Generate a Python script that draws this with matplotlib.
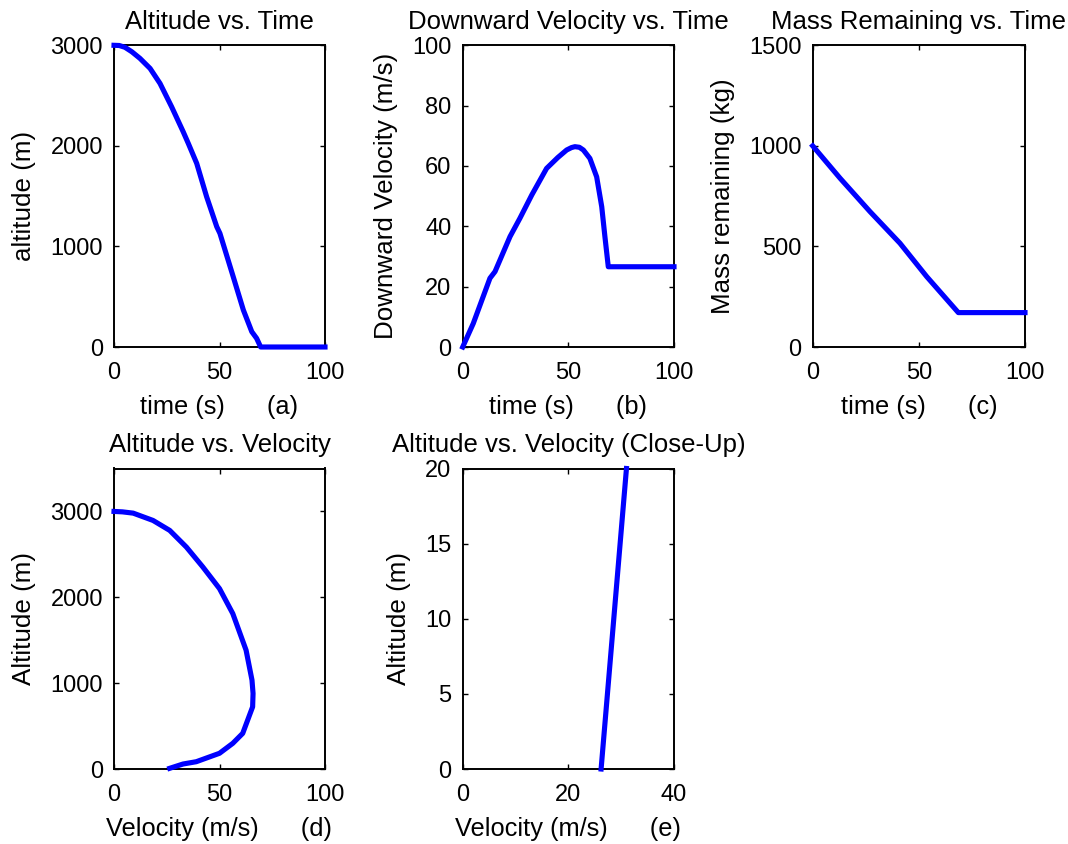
import matplotlib
matplotlib.use("Agg")
import matplotlib.pyplot as plt

plt.rcParams["font.family"] = ["Liberation Sans", "DejaVu Sans"]
plt.rcParams["font.size"] = 17

# (a) altitude vs time
alt_t = [0, 2.5, 5.2, 8.5, 12.3, 17.1, 21.8, 27.3, 32.8, 35.2, 39.2, 43.9, 48.7,
         50.2, 56.5, 61.3, 65.3, 67.6, 69.5, 100]
alt_m = [3000, 2998, 2980, 2935, 2870, 2770, 2621, 2389, 2140, 2025, 1826, 1494,
         1196, 1130, 699, 368, 152, 86, 0, 0]

# (b) downward velocity vs time
vel_t = [0, 5, 12.9, 15.3, 22.4, 27.1, 32.7, 39.7, 45, 49.2, 51.5, 53.1, 55.2,
         57.1, 60.2, 63.4, 65.8, 67.3, 68.9, 100]
vel_ms = [0, 7.8, 22.8, 25, 36.6, 42.7, 50.4, 59.2, 62.8, 65.3, 66.1, 66.4, 66.2,
          65.3, 62.5, 56.4, 46.5, 36.6, 26.6, 26.6]

# (c) mass remaining vs time
mass_t = [0, 12.9, 27, 41.1, 53.7, 68.6, 100]
mass_kg = [1000, 839, 673, 516, 350, 171, 171]

# (d) altitude vs velocity
av_vel = [0, 4, 9.1, 18.5, 26.4, 34.3, 42.1, 50, 56.3, 62.6, 65.4, 65.9, 65.7,
          61, 56.3, 50, 39, 32.7, 26.4]
av_alt = [3000, 2995, 2980, 2895, 2779, 2585, 2353, 2101, 1810, 1384, 1035, 880,
          724, 415, 299, 183, 85, 58, 8]

# (e) close-up near the ground
cu_vel = [26.2, 31.0]
cu_alt = [0, 20]

W, H = 1068, 844
fig = plt.figure(figsize=(W / 100, H / 100), dpi=100)


def make_ax(x0, x1, y0, y1):
    ax = fig.add_axes([x0 / W, 1 - y1 / H, (x1 - x0) / W, (y1 - y0) / H])
    ax.tick_params(direction="in", top=True, right=True, length=3.6, width=1,
                   labelsize=17)
    ax.tick_params(axis="x", pad=11)
    ax.tick_params(axis="y", pad=8)
    for s in ax.spines.values():
        s.set_linewidth(1.4)
    return ax


def draw(ax, x, y):
    ax.plot(x, y, color="#0000ff", lw=3.7, clip_on=False, zorder=3,
            solid_joinstyle="round")


def labels(ax, title, xlab, ylab):
    ax.set_title(title, pad=12, fontsize=18.5)
    ax.set_xlabel(xlab, labelpad=8, fontsize=18.3)
    ax.set_ylabel(ylab, labelpad=10, fontsize=18.7)


row1 = (45.3, 347)
row2 = (468.5, 769)
cols = [(114, 325), (462.7, 674), (812.7, 1025)]

ax = make_ax(*cols[0], *row1)
draw(ax, alt_t, alt_m)
ax.set_xlim(0, 100); ax.set_ylim(0, 3000)
ax.set_xticks([0, 50, 100]); ax.set_yticks([0, 1000, 2000, 3000])
labels(ax, "Altitude vs. Time", "time (s)      (a)", "altitude (m)")

ax = make_ax(*cols[1], *row1)
draw(ax, vel_t, vel_ms)
ax.set_xlim(0, 100); ax.set_ylim(0, 100)
ax.set_xticks([0, 50, 100]); ax.set_yticks([0, 20, 40, 60, 80, 100])
labels(ax, "Downward Velocity vs. Time", "time (s)      (b)",
       "Downward Velocity (m/s)")

ax = make_ax(*cols[2], *row1)
draw(ax, mass_t, mass_kg)
ax.set_xlim(0, 100); ax.set_ylim(0, 1500)
ax.set_xticks([0, 50, 100]); ax.set_yticks([0, 500, 1000, 1500])
labels(ax, "Mass Remaining vs. Time", "time (s)      (c)", "Mass remaining (kg)")

ax = make_ax(*cols[0], *row2)
draw(ax, av_vel, av_alt)
ax.set_xlim(0, 100); ax.set_ylim(0, 3500)
ax.set_xticks([0, 50, 100]); ax.set_yticks([0, 1000, 2000, 3000])
labels(ax, "Altitude vs. Velocity", "Velocity (m/s)      (d)", "Altitude (m)")

ax = make_ax(*cols[1], *row2)
draw(ax, cu_vel, cu_alt)
ax.set_xlim(0, 40); ax.set_ylim(0, 20)
ax.set_xticks([0, 20, 40]); ax.set_yticks([0, 5, 10, 15, 20])
labels(ax, "Altitude vs. Velocity (Close-Up)", "Velocity (m/s)      (e)",
       "Altitude (m)")

fig.savefig("out.png", dpi=100)
